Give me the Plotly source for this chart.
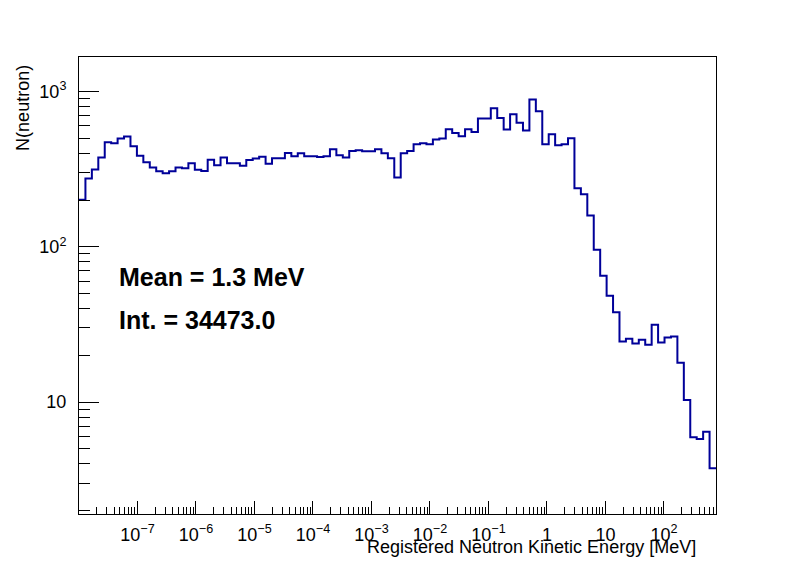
import numpy as np
import plotly.graph_objects as go

# log10 bin edges of the histogram: 99 bins of 0.11 decades starting at 1e-8 MeV
log_lo = -8.0
bin_step = 0.11
n_bins = 99

# counts per bin
counts = [
    201, 275, 314, 375, 471, 464, 497, 513, 444, 386,
    350, 324, 306, 297, 306, 324, 320, 345, 313, 308,
    364, 335, 375, 345, 345, 333, 362, 370, 380, 343,
    372, 372, 402, 383, 400, 383, 383, 378, 383, 424,
    388, 375, 414, 419, 412, 412, 424, 400, 372, 279,
    400, 414, 457, 464, 457, 490, 497, 571, 541, 515,
    571, 549, 670, 670, 781, 676, 569, 714, 628, 560,
    888, 747, 457, 531, 451, 457, 500, 238, 218, 159,
    95.7, 65, 48.4, 37.8, 24.5, 25.6, 23.8, 25.2, 23.4, 31.5,
    24.2, 26.0, 26.4, 17.9, 10.3, 5.94, 5.79, 6.44, 3.75,
]

x_tick_vals = [1e-7, 1e-6, 1e-5, 1e-4, 1e-3, 1e-2, 1e-1, 1, 10, 100]
x_tick_text = ["10<sup>\u22127</sup>", "10<sup>\u22126</sup>", "10<sup>\u22125</sup>",
               "10<sup>\u22124</sup>", "10<sup>\u22123</sup>", "10<sup>\u22122</sup>",
               "10<sup>\u22121</sup>", "1", "10", "10<sup>2</sup>"]
y_tick_vals = [10, 100, 1000]
y_tick_text = ["10", "10<sup>2</sup>", "10<sup>3</sup>"]

mean_text = "Mean = 1.3 MeV"
int_text = "Int. = 34473.0"

edges = 10 ** (log_lo + bin_step * np.arange(n_bins + 1))
log_hi = log_lo + bin_step * n_bins

# minor ticks at 2..9 x 10^k
x_minor = [m * 10.0 ** k for k in range(-8, 3) for m in range(2, 10)
           if np.log10(m * 10.0 ** k) < log_hi]
y_minor = [m * 10.0 ** k for k in range(0, 4) for m in range(2, 10)
           if 0.279 < np.log10(m * 10.0 ** k) < 3.222]

fig = go.Figure()

# histogram outline as a step line
fig.add_trace(go.Scatter(
    x=edges,
    y=list(counts) + [counts[-1]],
    mode="lines",
    line=dict(color="#000099", width=2, shape="hv"),
    hoverinfo="skip",
))

font_main = "Liberation Sans, Arial, sans-serif"

# the page body adds 8px, so the figure is 8px smaller and margins shifted
fig.update_layout(
    width=788, height=564,
    margin=dict(l=71, r=80, t=49, b=58),
    paper_bgcolor="white",
    plot_bgcolor="white",
    showlegend=False,
    font=dict(family=font_main, size=18, color="black"),
    xaxis=dict(
        type="log",
        range=[log_lo, log_hi],
        tickmode="array",
        tickvals=x_tick_vals,
        ticktext=x_tick_text,
        ticks="inside", ticklen=13, tickwidth=1, tickcolor="black",
        minor=dict(tickmode="array", tickvals=x_minor, ticks="inside",
                   ticklen=7, tickwidth=1, tickcolor="black"),
        showline=True, linecolor="black", linewidth=1, mirror=True,
        showgrid=False, zeroline=False,
        ticklabelstandoff=4,
    ),
    yaxis=dict(
        type="log",
        range=[0.279, 3.222],
        tickmode="array",
        tickvals=y_tick_vals,
        ticktext=y_tick_text,
        ticks="inside", ticklen=20, tickwidth=1, tickcolor="black",
        minor=dict(tickmode="array", tickvals=y_minor, ticks="inside",
                   ticklen=11, tickwidth=1, tickcolor="black"),
        showline=True, linecolor="black", linewidth=1, mirror=True,
        showgrid=False, zeroline=False,
        ticklabelstandoff=8,
    ),
)

# axis titles placed the ROOT way
fig.add_annotation(text="Registered Neutron Kinetic Energy [MeV]",
                   xref="paper", yref="paper", x=0.9717, y=-0.072,
                   xanchor="right", yanchor="middle", showarrow=False,
                   font=dict(size=18))
fig.add_annotation(text="N(neutron)", textangle=-90,
                   xref="paper", yref="paper", x=-0.088, y=0.987,
                   xanchor="center", yanchor="top", showarrow=False,
                   font=dict(size=18))

# statistics text
fig.add_annotation(text="<b>" + mean_text + "</b>",
                   xref="paper", yref="paper", x=0.060, y=0.519,
                   xanchor="left", yanchor="middle", showarrow=False,
                   font=dict(size=25))
fig.add_annotation(text="<b>" + int_text + "</b>",
                   xref="paper", yref="paper", x=0.060, y=0.4235,
                   xanchor="left", yanchor="middle", showarrow=False,
                   font=dict(size=25))

fig.write_html("out.html")
